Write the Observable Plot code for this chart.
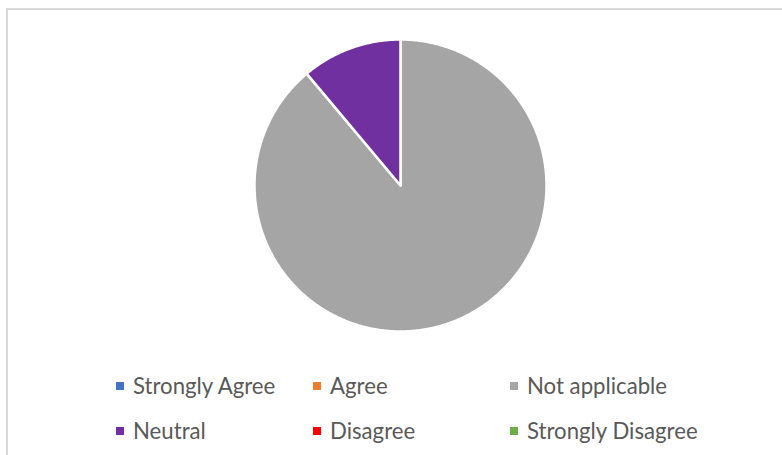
<!DOCTYPE html>
<html>
<head>
<meta charset="utf-8">
<script src="https://cdn.jsdelivr.net/npm/d3@7"></script>
<script src="https://cdn.jsdelivr.net/npm/@observablehq/plot@0.6"></script>
<style>
  html, body { margin: 0; padding: 0; background: #fff; overflow: hidden; width: 782px; height: 455px; }
  #frame { position: absolute; left: 6px; top: 8px; width: 800px; height: 500px; border: 2px solid #d9d9d9; box-sizing: border-box; }
  #chart { position: absolute; left: 0; top: 0; }
  #legend { position: absolute; left: 0; top: 355px; width: 782px; height: 100px;
    display: grid; grid-template-columns: repeat(3, 197px); grid-auto-rows: 45px;
    padding-left: 116px; padding-top: 8px; box-sizing: border-box;
    font-family: Lato, "Open Sans", sans-serif; font-size: 22.2px; color: #595959; }
  .item { display: flex; align-items: center; white-space: nowrap; }
  .sw { width: 8px; height: 8px; margin-right: 9px; flex: none; }
</style>
</head>
<body>
<div id="frame"></div>
<div id="chart"></div>
<div id="legend"></div>
<script>
const categories = ["Strongly Agree", "Agree", "Not applicable", "Neutral", "Disagree", "Strongly Disagree"];
const values = [0, 0, 8, 1, 0, 0];
const colors = ["#4472C4", "#ED7D31", "#A5A5A5", "#7030A0", "#FF0000", "#70AD47"];

const arcs = d3.pie().sort(null).value(d => d)(values);
function slicePolygon(a) {
  const ring = [[0, 0]];
  const n = Math.max(2, Math.ceil((a.endAngle - a.startAngle) / 0.01));
  for (let i = 0; i <= n; i++) {
    const t = a.startAngle + (a.endAngle - a.startAngle) * i / n;
    ring.push([Math.sin(t), -Math.cos(t)]);
  }
  ring.push([0, 0]);
  return ring;
}
const features = arcs.map((a, i) => ({
  type: "Feature",
  properties: {category: categories[i], value: values[i]},
  geometry: {type: "Polygon", coordinates: [slicePolygon(a)]}
})).filter(f => f.properties.value > 0);

const circle = [];
for (let i = 0; i <= 360; i++) {
  const t = i * Math.PI / 180;
  circle.push([Math.sin(t), -Math.cos(t)]);
}
const domain = {type: "Polygon", coordinates: [circle]};

const plot = Plot.plot({
  width: 782,
  height: 355,
  marginLeft: 254,
  marginRight: 236,
  marginTop: 39,
  marginBottom: 24,
  projection: {type: "identity", domain},
  color: {domain: categories, range: colors},
  marks: [
    Plot.geo(features, {fill: d => d.properties.category, stroke: "white", strokeWidth: 2.5, strokeLinejoin: "round"})
  ]
});
document.getElementById("chart").appendChild(plot);

const legend = d3.select("#legend");
categories.forEach((c, i) => {
  const it = legend.append("div").attr("class", "item");
  it.append("div").attr("class", "sw").style("background", plot.scale("color").apply(c));
  it.append("span").text(c);
});
</script>
</body>
</html>
